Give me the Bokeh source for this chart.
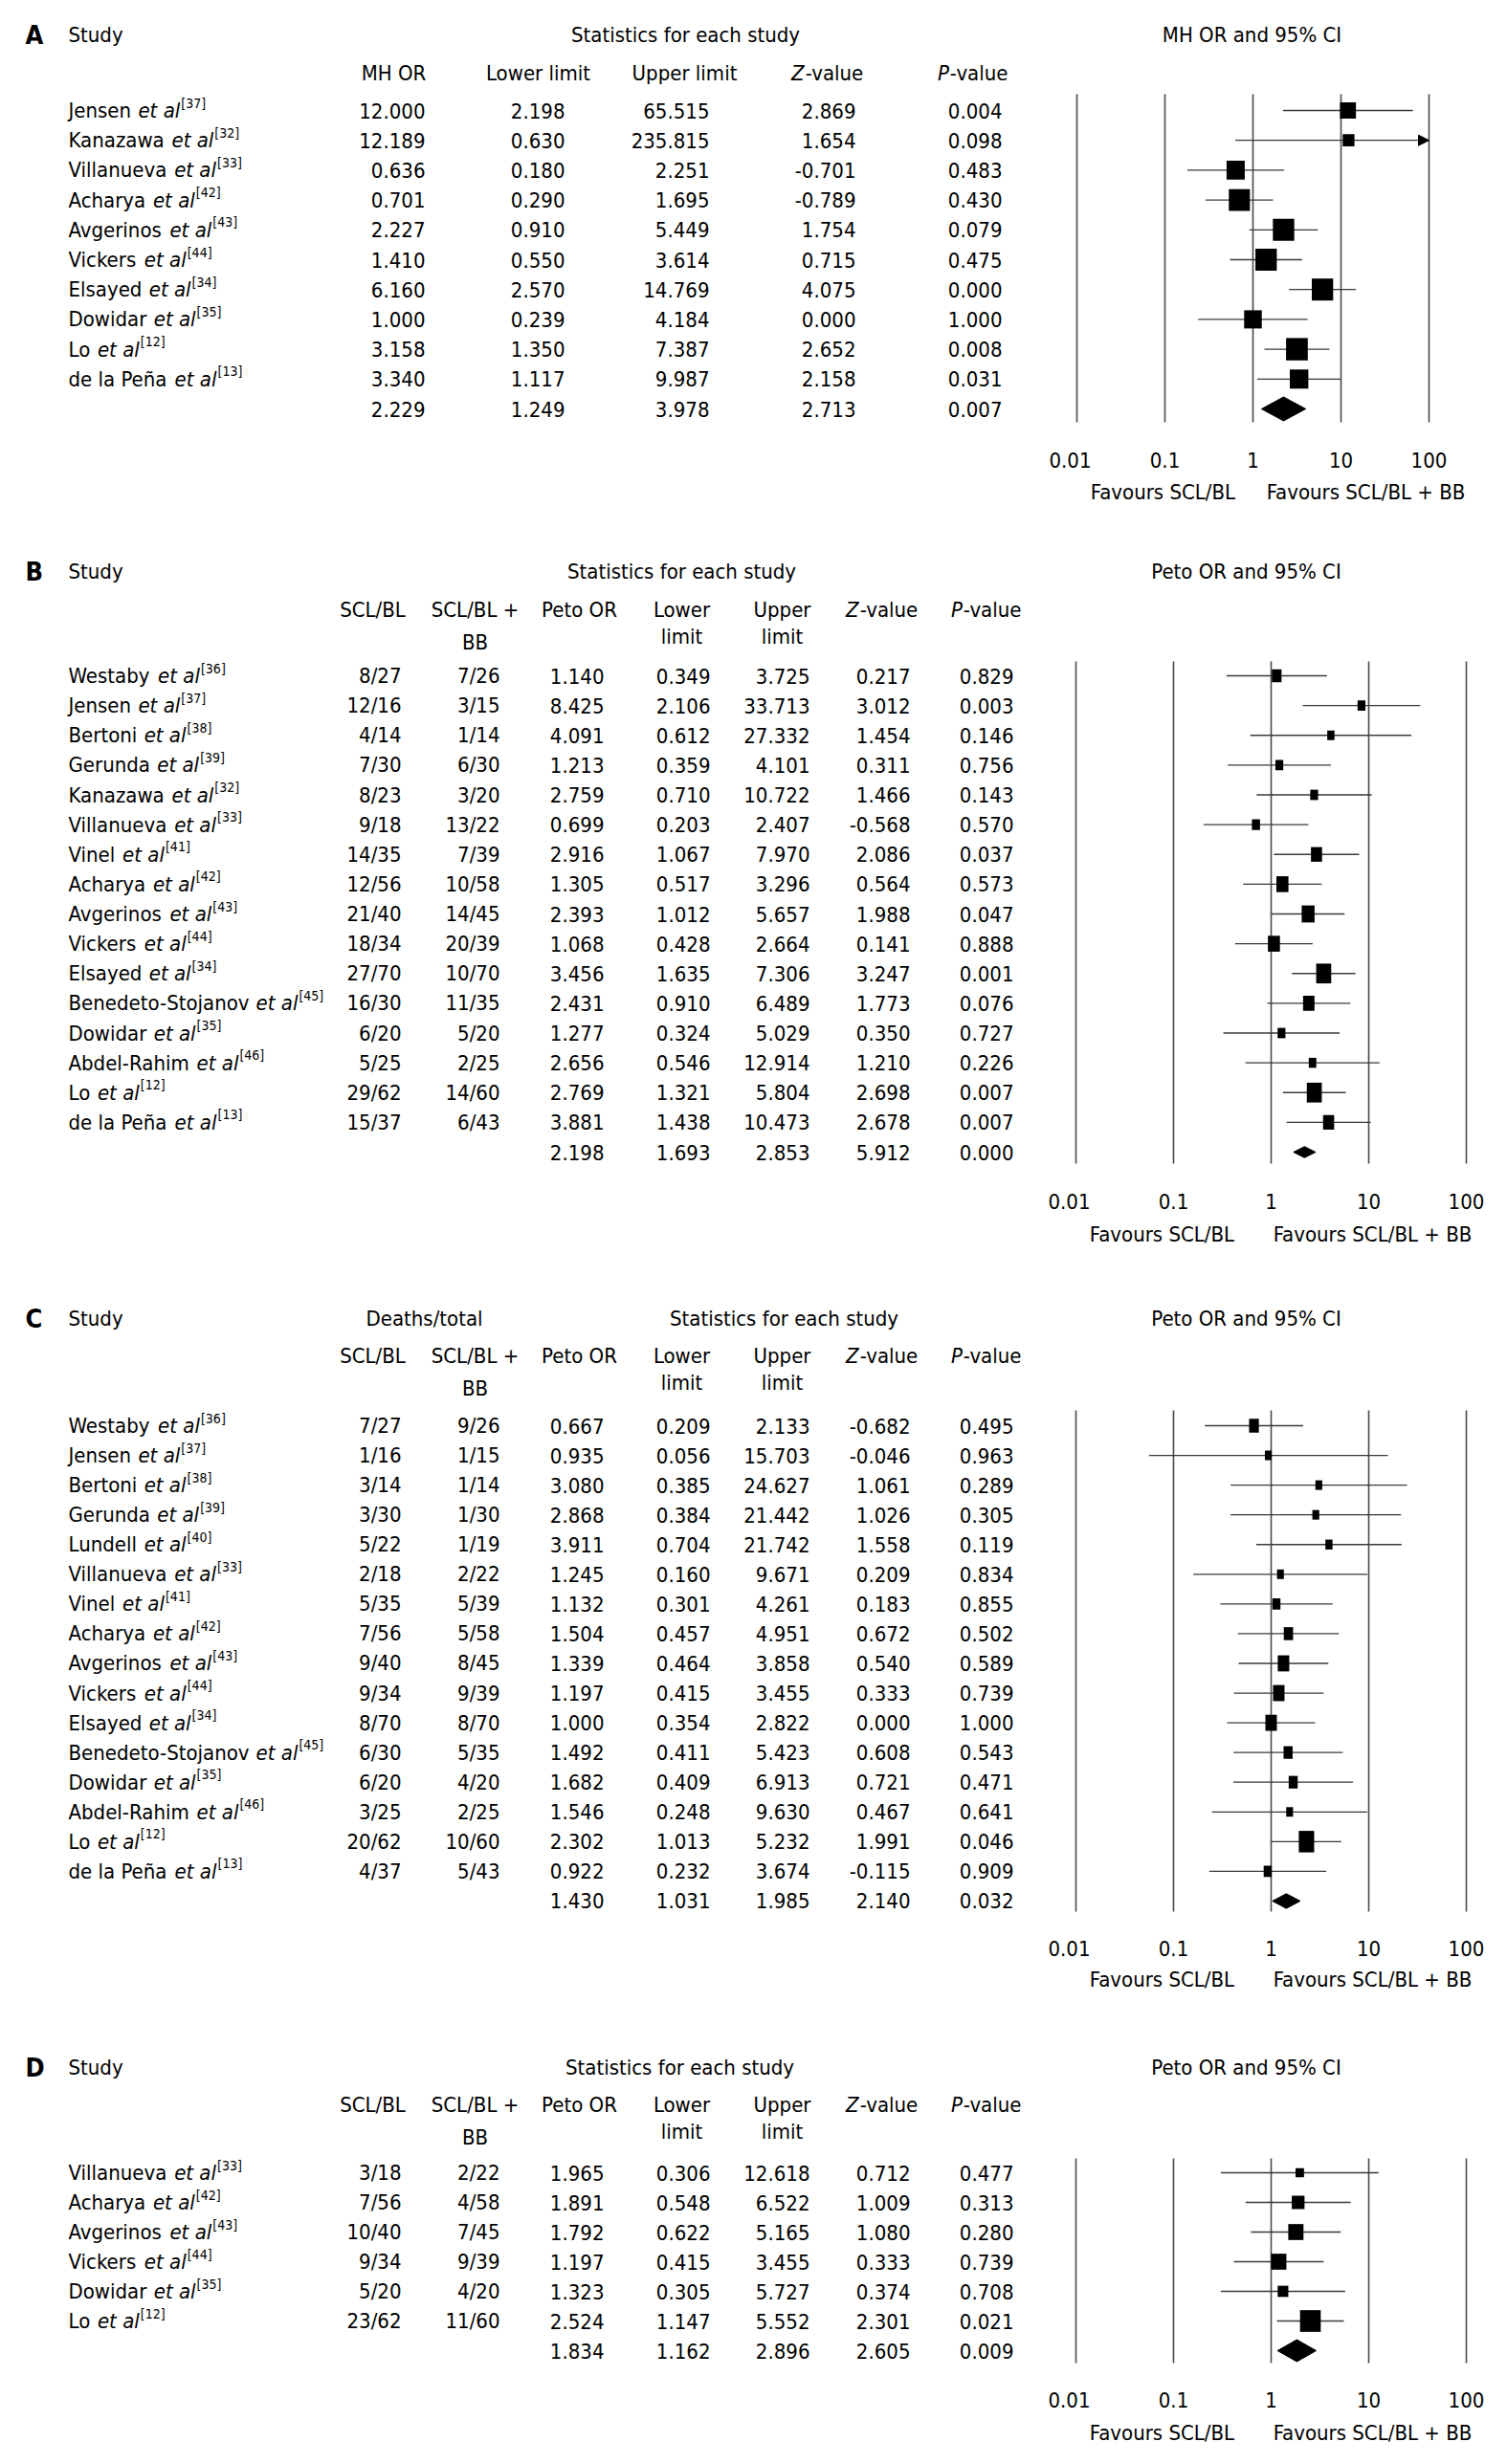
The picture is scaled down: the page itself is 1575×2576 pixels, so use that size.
from bokeh.plotting import figure
from bokeh.layouts import column
from bokeh.models import Range1d, LogScale, Arrow, NormalHead
from bokeh.core.properties import value
from bokeh.embed import file_html
from bokeh.resources import INLINE

# ---------------- data ----------------
TICKS = [0.01, 0.1, 1, 10, 100]
TICK_LABELS = ["0.01", "0.1", "1", "10", "100"]

# Panel A
A_STUDY = ["Jensen", "Kanazawa", "Villanueva", "Acharya", "Avgerinos", "Vickers",
           "Elsayed", "Dowidar", "Lo", "de la Peña"]
A_REF = ["37", "32", "33", "42", "43", "44", "34", "35", "12", "13"]
A_OR = [12.000, 12.189, 0.636, 0.701, 2.227, 1.410, 6.160, 1.000, 3.158, 3.340]
A_LO = [2.198, 0.630, 0.180, 0.290, 0.910, 0.550, 2.570, 0.239, 1.350, 1.117]
A_HI = [65.515, 235.815, 2.251, 1.695, 5.449, 3.614, 14.769, 4.184, 7.387, 9.987]
A_Z = [2.869, 1.654, -0.701, -0.789, 1.754, 0.715, 4.075, 0.000, 2.652, 2.158]
A_P = [0.004, 0.098, 0.483, 0.430, 0.079, 0.475, 0.000, 1.000, 0.008, 0.031]
A_SUM = [2.229, 1.249, 3.978, 2.713, 0.007]
A_WT = [17.2, 12.7, 19.6, 22.7, 23.0, 23.0, 23.0, 19.0, 23.4, 20.0]

# Panel B
B_STUDY = ["Westaby", "Jensen", "Bertoni", "Gerunda", "Kanazawa", "Villanueva", "Vinel",
           "Acharya", "Avgerinos", "Vickers", "Elsayed", "Benedeto-Stojanov", "Dowidar",
           "Abdel-Rahim", "Lo", "de la Peña"]
B_REF = ["36", "37", "38", "39", "32", "33", "41", "42", "43", "44", "34", "45", "35", "46", "12", "13"]
B_SCL = ["8/27", "12/16", "4/14", "7/30", "8/23", "9/18", "14/35", "12/56", "21/40", "18/34",
         "27/70", "16/30", "6/20", "5/25", "29/62", "15/37"]
B_BB = ["7/26", "3/15", "1/14", "6/30", "3/20", "13/22", "7/39", "10/58", "14/45", "20/39",
        "10/70", "11/35", "5/20", "2/25", "14/60", "6/43"]
B_OR = [1.140, 8.425, 4.091, 1.213, 2.759, 0.699, 2.916, 1.305, 2.393, 1.068, 3.456, 2.431,
        1.277, 2.656, 2.769, 3.881]
B_LO = [0.349, 2.106, 0.612, 0.359, 0.710, 0.203, 1.067, 0.517, 1.012, 0.428, 1.635, 0.910,
        0.324, 0.546, 1.321, 1.438]
B_HI = [3.725, 33.713, 27.332, 4.101, 10.722, 2.407, 7.970, 3.296, 5.657, 2.664, 7.306, 6.489,
        5.029, 12.914, 5.804, 10.473]
B_Z = [0.217, 3.012, 1.454, 0.311, 1.466, -0.568, 2.086, 0.564, 1.988, 0.141, 3.247, 1.773,
       0.350, 1.210, 2.698, 2.678]
B_P = [0.829, 0.003, 0.146, 0.756, 0.143, 0.570, 0.037, 0.573, 0.047, 0.888, 0.001, 0.076,
       0.727, 0.226, 0.007, 0.007]
B_SUM = [2.198, 1.693, 2.853, 5.912, 0.000]
B_WT = [13.3, 10.8, 10.0, 10.8, 10.8, 11.2, 15.3, 16.6, 17.8, 16.6, 20.7, 15.8, 10.8, 10.4, 20.7, 15.3]

# Panel C
C_STUDY = ["Westaby", "Jensen", "Bertoni", "Gerunda", "Lundell", "Villanueva", "Vinel",
           "Acharya", "Avgerinos", "Vickers", "Elsayed", "Benedeto-Stojanov", "Dowidar",
           "Abdel-Rahim", "Lo", "de la Peña"]
C_REF = ["36", "37", "38", "39", "40", "33", "41", "42", "43", "44", "34", "45", "35", "46", "12", "13"]
C_SCL = ["7/27", "1/16", "3/14", "3/30", "5/22", "2/18", "5/35", "7/56", "9/40", "9/34",
         "8/70", "6/30", "6/20", "3/25", "20/62", "4/37"]
C_BB = ["9/26", "1/15", "1/14", "1/30", "1/19", "2/22", "5/39", "5/58", "8/45", "9/39",
        "8/70", "5/35", "4/20", "2/25", "10/60", "5/43"]
C_OR = [0.667, 0.935, 3.080, 2.868, 3.911, 1.245, 1.132, 1.504, 1.339, 1.197, 1.000, 1.492,
        1.682, 1.546, 2.302, 0.922]
C_LO = [0.209, 0.056, 0.385, 0.384, 0.704, 0.160, 0.301, 0.457, 0.464, 0.415, 0.354, 0.411,
        0.409, 0.248, 1.013, 0.232]
C_HI = [2.133, 15.703, 24.627, 21.442, 21.742, 9.671, 4.261, 4.951, 3.858, 3.455, 2.822, 5.423,
        6.913, 9.630, 5.232, 3.674]
C_Z = [-0.682, -0.046, 1.061, 1.026, 1.558, 0.209, 0.183, 0.672, 0.540, 0.333, 0.000, 0.608,
       0.721, 0.467, 1.991, -0.115]
C_P = [0.495, 0.963, 0.289, 0.305, 0.119, 0.834, 0.855, 0.502, 0.589, 0.739, 1.000, 0.543,
       0.471, 0.641, 0.046, 0.909]
C_SUM = [1.430, 1.031, 1.985, 2.140, 0.032]
C_WT = [14.3, 10.0, 10.0, 10.0, 10.4, 10.0, 11.8, 13.6, 16.8, 16.8, 16.8, 13.2, 13.2, 10.0, 22.5, 11.8]

# Panel D
D_STUDY = ["Villanueva", "Acharya", "Avgerinos", "Vickers", "Dowidar", "Lo"]
D_REF = ["33", "42", "43", "44", "35", "12"]
D_SCL = ["3/18", "7/56", "10/40", "9/34", "5/20", "23/62"]
D_BB = ["2/22", "4/58", "7/45", "9/39", "4/20", "11/60"]
D_OR = [1.965, 1.891, 1.792, 1.197, 1.323, 2.524]
D_LO = [0.306, 0.548, 0.622, 0.415, 0.305, 1.147]
D_HI = [12.618, 6.522, 5.165, 3.455, 5.727, 5.552]
D_Z = [0.712, 1.009, 1.080, 0.333, 0.374, 2.301]
D_P = [0.477, 0.313, 0.280, 0.739, 0.708, 0.021]
D_SUM = [1.834, 1.162, 2.896, 2.605, 0.009]
D_WT = [9.3, 14.0, 16.7, 16.7, 11.7, 22.7]

# ---------------- styling / layout ----------------
FONT = "DejaVu Sans Condensed"
FS = 22
SUP = 14
COND = 0.9
PAGE_W = 1559
XL, XR = 0, PAGE_W

CW = {' ': 0.318, '-': 0.361, '.': 0.318, '/': 0.337, '[': 0.390, ']': 0.390, '+': 0.838,
      'A': 0.684, 'B': 0.686, 'C': 0.698, 'D': 0.770, 'E': 0.632, 'F': 0.575, 'G': 0.775,
      'H': 0.752, 'I': 0.295, 'J': 0.295, 'K': 0.656, 'L': 0.557, 'M': 0.863, 'N': 0.748,
      'O': 0.787, 'P': 0.603, 'R': 0.695, 'S': 0.635, 'T': 0.611, 'U': 0.732, 'V': 0.684,
      'W': 0.989, 'Z': 0.685,
      'a': 0.613, 'b': 0.635, 'c': 0.550, 'd': 0.635, 'e': 0.615, 'f': 0.352, 'g': 0.635,
      'h': 0.634, 'i': 0.278, 'j': 0.278, 'k': 0.579, 'l': 0.278, 'm': 0.974, 'n': 0.634,
      'o': 0.612, 'p': 0.635, 'q': 0.635, 'r': 0.411, 's': 0.521, 't': 0.392, 'u': 0.634,
      'v': 0.592, 'w': 0.818, 'x': 0.592, 'y': 0.592, 'z': 0.525, 'ñ': 0.634}


def tw(s, fs=FS):
    return sum(CW.get(c, 0.636) for c in s) * fs * COND


def T(p, xs, ys, texts, align="left", style="normal", size=FS, rng=None, color="#000000",
      xoff=0):
    kw = dict(x=xs, y=ys, text=texts, text_font=value(FONT), text_font_size=f"{size}px",
              text_align=align, text_baseline="middle", text_font_style=style,
              text_color=color, x_offset=xoff)
    if rng:
        kw["x_range_name"] = rng
    p.text(**kw)


def fmt(v):
    return f"{v:.3f}"


def build(L):
    top, bot, r0, st = L["top"], L["bot"], L["r0"], L["step"]

    def ry(px):
        return (px - r0) / st

    p = figure(width=PAGE_W, height=bot - top, x_range=Range1d(XL, XR),
               y_range=Range1d(ry(bot), ry(top)), x_axis_type=None, y_axis_type=None,
               toolbar_location=None, output_backend="svg", min_border=0,
               outline_line_color=None, background_fill_color="white",
               border_fill_color="white")
    dec, x1 = L["dec"], L["x_one"]
    p.extra_x_ranges = {"or": Range1d(10 ** ((XL - x1) / dec), 10 ** ((XR - x1) / dec))}
    p.extra_x_scales = {"or": LogScale()}

    names, refs = L["names"], L["refs"]
    n = len(names)
    rows = list(range(n))

    # titles
    T(p, [26], [ry(L["title_y"])], [L["letter"]], style="bold", size=27)
    T(p, [71], [ry(L["title_y"])], ["Study"])
    T(p, [L["stats_x"]], [ry(L["title_y"])], ["Statistics for each study"], align="center")
    if L.get("deaths_x"):
        T(p, [L["deaths_x"]], [ry(L["title_y"])], ["Deaths/total"], align="center")
    T(p, [L["ci_x"]], [ry(L["title_y"])], [L["ci_title"]], align="center")

    # study names
    T(p, [71] * n, rows, names)
    etx = [71 + tw(nm + " ") + 1 for nm in names]
    T(p, etx, rows, ["et al"] * n, style="italic")
    supx = [x + tw("et al") + 1 for x in etx]
    T(p, supx, [r - 8 / st for r in rows], [f"[{r}]" for r in refs], size=SUP)

    # columns
    for col in L["cols"]:
        cx, rx = col["c"], col["r"]
        for k, h in enumerate(col["head"]):
            yy = ry(L["hdr"] if k == 0 else (L["hdr"] + (34 if h == "BB" else 28)))
            if h in ("Z-value", "P-value"):
                w1, w2 = tw(h[0]), tw(h[1:])
                x0 = cx - (w1 + w2) / 2
                T(p, [x0], [yy], [h[0]], style="italic")
                T(p, [x0 + w1 + 1], [yy], [h[1:]])
            else:
                T(p, [cx], [yy], [h], align="center")
        vals = col["vals"]
        txt = [v if isinstance(v, str) else fmt(v) for v in vals]
        T(p, [rx] * len(txt), list(range(len(txt))), txt, align="right")

    # forest: vertical reference lines
    p.segment(x0=TICKS, x1=TICKS, y0=[ry(L["vl"][0])] * 5, y1=[ry(L["vl"][1])] * 5,
              x_range_name="or", line_color="#4a4a4a", line_width=1.6)
    est, lo, hi = L["est"], L["lo"], L["hi"]
    hic = [min(h, 100) for h in hi]
    p.segment(x0=lo, x1=hic, y0=rows, y1=rows, x_range_name="or",
              line_color="#3a3a3a", line_width=1.3)
    for i, h in enumerate(hi):
        if h > 100:
            p.add_layout(Arrow(end=NormalHead(size=11, fill_color="black", line_color="black"),
                               x_start=50, x_end=100, y_start=i, y_end=i, line_alpha=0,
                               x_range_name="or"))
    wt = L["wt"]
    p.rect(x=est, y=rows, width=[w / L["aspect"] for w in wt], height=wt,
           width_units="screen", height_units="screen", x_range_name="or",
           fill_color="black", line_color=None)
    s = L["sum"]
    dh = L["dia_h"] / st
    p.patch(x=[s[1], s[0], s[2], s[0]], y=[n, n - dh, n, n + dh], x_range_name="or",
            fill_color="black", line_color="black", line_width=1)

    # tick labels and favours
    T(p, TICKS, [ry(L["tick_y"])] * 5, TICK_LABELS, align="center", rng="or",
      xoff=[-7, 0, 0, 0, 0])
    T(p, [L["fav"][0]], [ry(L["fav_y"])], ["Favours SCL/BL"], align="center")
    T(p, [L["fav"][1]], [ry(L["fav_y"])], ["Favours SCL/BL + BB"], align="center")
    return p


def peto_cols(scl, bb, orv, lo, hi, z, pv, sm):
    return [
        dict(head=["SCL/BL"], c=389, r=419, vals=scl),
        dict(head=["SCL/BL +", "BB"], c=496, r=522, vals=bb),
        dict(head=["Peto OR"], c=605, r=631, vals=orv + [sm[0]]),
        dict(head=["Lower", "limit"], c=712, r=742, vals=lo + [sm[1]]),
        dict(head=["Upper", "limit"], c=817, r=846, vals=hi + [sm[2]]),
        dict(head=["Z-value"], c=921, r=951, vals=z + [sm[3]]),
        dict(head=["P-value"], c=1030, r=1059, vals=pv + [sm[4]]),
    ]


LA = dict(letter="A", top=0, bot=552, r0=115, step=31.2, title_y=36, hdr=76,
          stats_x=716, ci_x=1308, ci_title="MH OR and 95% CI", x_one=1309, dec=92,
          vl=[98, 441], tick_y=480, fav_y=514, fav=[1215, 1427],
          names=A_STUDY, refs=A_REF, est=A_OR, lo=A_LO, hi=A_HI, sum=A_SUM, wt=A_WT,
          aspect=1.03, dia_h=12.5,
          cols=[dict(head=["MH OR"], c=411, r=444, vals=A_OR + [A_SUM[0]]),
                dict(head=["Lower limit"], c=562, r=590, vals=A_LO + [A_SUM[1]]),
                dict(head=["Upper limit"], c=715, r=741, vals=A_HI + [A_SUM[2]]),
                dict(head=["Z-value"], c=864, r=894, vals=A_Z + [A_SUM[3]]),
                dict(head=["P-value"], c=1016, r=1047, vals=A_P + [A_SUM[4]])])

LB = dict(letter="B", top=552, bot=1332, r0=706, step=31.125, title_y=597, hdr=637,
          stats_x=712, ci_x=1302, ci_title="Peto OR and 95% CI", x_one=1328,
          dec=102, vl=[691, 1216], tick_y=1255, fav_y=1290, fav=[1214, 1434],
          names=B_STUDY, refs=B_REF, est=B_OR, lo=B_LO, hi=B_HI, sum=B_SUM, wt=B_WT,
          aspect=1.32, dia_h=5.8,
          cols=peto_cols(B_SCL, B_BB, B_OR, B_LO, B_HI, B_Z, B_P, B_SUM))

LC = dict(letter="C", top=1332, bot=2112, r0=1490, step=31.06, title_y=1378, hdr=1417,
          stats_x=819, deaths_x=443, ci_x=1302, ci_title="Peto OR and 95% CI",
          x_one=1328, dec=102, vl=[1474, 1998], tick_y=2036, fav_y=2069, fav=[1214, 1434],
          names=C_STUDY, refs=C_REF, est=C_OR, lo=C_LO, hi=C_HI, sum=C_SUM, wt=C_WT,
          aspect=1.4, dia_h=7.7,
          cols=peto_cols(C_SCL, C_BB, C_OR, C_LO, C_HI, C_Z, C_P, C_SUM))

LD = dict(letter="D", top=2112, bot=2560, r0=2271, step=31.0, title_y=2161, hdr=2200,
          stats_x=710, ci_x=1302, ci_title="Peto OR and 95% CI", x_one=1328,
          dec=102, vl=[2256, 2470], tick_y=2508, fav_y=2543, fav=[1214, 1434],
          names=D_STUDY, refs=D_REF, est=D_OR, lo=D_LO, hi=D_HI, sum=D_SUM, wt=D_WT,
          aspect=1.05, dia_h=11.5,
          cols=peto_cols(D_SCL, D_BB, D_OR, D_LO, D_HI, D_Z, D_P, D_SUM))

layout = column([build(LA), build(LB), build(LC), build(LD)], spacing=0)
open("out.html", "w").write(file_html(layout, INLINE))
